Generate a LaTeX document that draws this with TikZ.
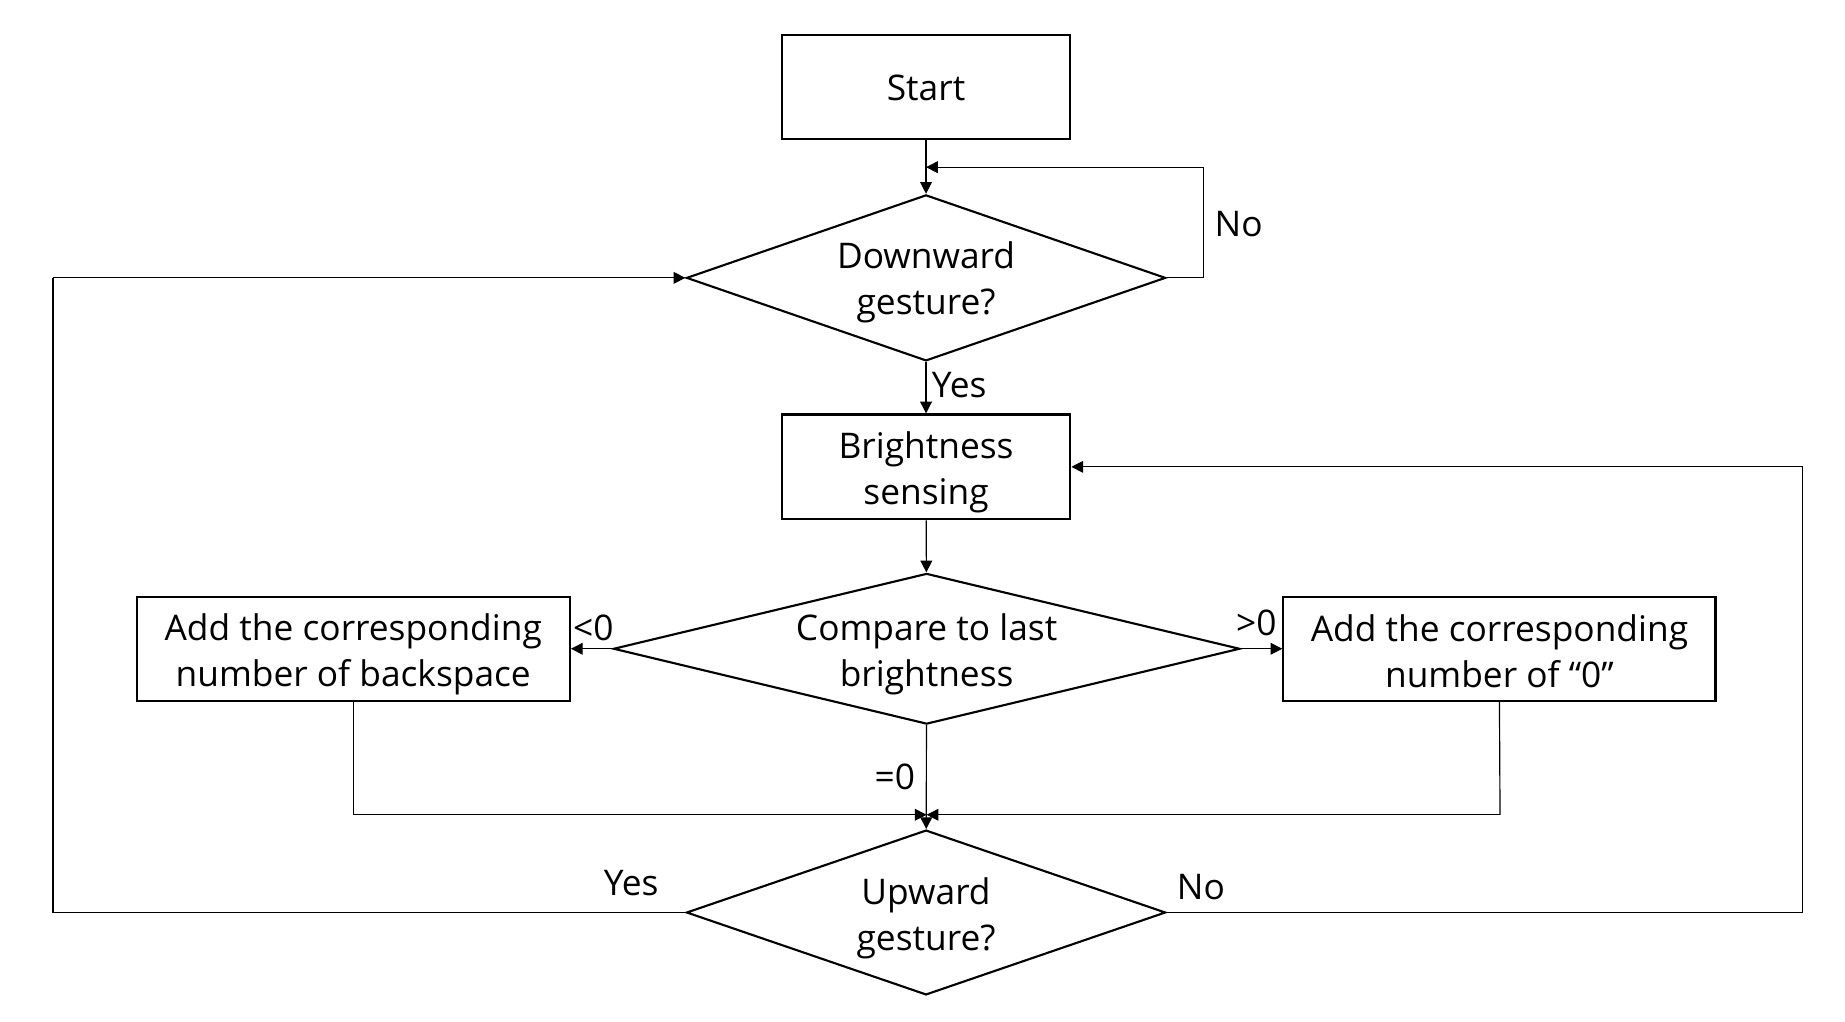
\documentclass[tikz,border=0pt]{standalone}
\usepackage{fontspec}
\setmainfont{Open Sans}
\usetikzlibrary{shapes.geometric,arrows.meta}
\begin{document}
\begin{tikzpicture}[x=0.5pt,y=-0.5pt,
  every node/.style={font=\fontsize{15}{19.5}\selectfont},
  procbox/.style={draw,line width=0.9pt,rectangle,inner sep=0pt},
  decision/.style={draw,line width=0.9pt,diamond,inner sep=0pt},
  txt/.style={inner sep=0pt,align=center},
  conn/.style={line width=0.5pt,-{Triangle[length=5pt,width=5pt]}},
  line/.style={line width=0.5pt},
  lbl/.style={inner sep=0pt}
]
\useasboundingbox (0,0) rectangle (1567,868);
\node[procbox,minimum width=122.5pt,minimum height=44pt,
  label={[txt,yshift=-0.5pt]center:Start}] (start) at (786.5,74) {};
\node[decision,minimum width=203.5pt,minimum height=70.5pt,
  label={[txt,yshift=-2pt]center:Downward\\gesture?}] (down) at (786.5,236) {};
\node[procbox,minimum width=122.5pt,minimum height=44.5pt,
  label={[txt,yshift=-2.5pt]center:Brightness\\sensing}] (bright) at (786.5,396.5) {};
\node[decision,minimum width=266pt,minimum height=64pt,
  label={[txt,yshift=-2.5pt]center:Compare to last\\brightness}] (cmp) at (787,551) {};
\node[procbox,minimum width=184pt,minimum height=44pt,
  label={[txt,yshift=-2.5pt]center:Add the corresponding\\number of backspace}] (left) at (300,551) {};
\node[procbox,minimum width=183.5pt,minimum height=44pt,
  label={[txt,yshift=-1pt]center:Add the corresponding\\number of “0”}] (right) at (1273.5,551) {};
\node[decision,minimum width=203.5pt,minimum height=70pt,
  label={[txt,yshift=-2.5pt]center:Upward\\gesture?}] (up) at (786.5,775) {};

\coordinate (merge) at (787,692);
\coordinate (n1) at (1022,236);
\coordinate (n2) at (1022,142);
\coordinate (n3) at (786.5,142);
\coordinate (y1) at (45,775);
\coordinate (y2) at (45,236);
\coordinate (m1) at (1531,775);
\coordinate (m2) at (1531,396.5);
\coordinate (lb) at (300,692);
\coordinate (rb) at (1274,692);

\draw[conn] (start) -- (down);
\draw[line] (down.east) -- (n1) -- (n2);
\draw[conn] (n2) -- (n3);
\draw[conn] (down) -- (bright);
\draw[conn] (bright) -- (cmp);
\draw[conn] (cmp.west) -- (left.east);
\draw[conn] (cmp.east) -- (right.west);
\draw[conn] (cmp) -- (up);
\draw[line] (left.south) -- (lb);
\draw[conn] (lb) -- (merge);
\draw[line] (right.south) -- (rb);
\draw[conn] (rb) -- (merge);
\draw[line] (up.west) -- (y1) -- (y2);
\draw[conn] (y2) -- (down.west);
\draw[line] (up.east) -- (m1) -- (m2);
\draw[conn] (m2) -- (bright.east);

\node[lbl] (lno1) at (1052,190) {No};
\node[lbl,anchor=west] (lyes1) at (791,327) {Yes};
\node[lbl] (llt) at (504,533) {<0};
\node[lbl] (lgt) at (1067,529) {>0};
\node[lbl] (leq) at (760,660) {=0};
\node[lbl] (lyes2) at (536,750) {Yes};
\node[lbl] (lno2) at (1020,753) {No};
\end{tikzpicture}
\end{document}
